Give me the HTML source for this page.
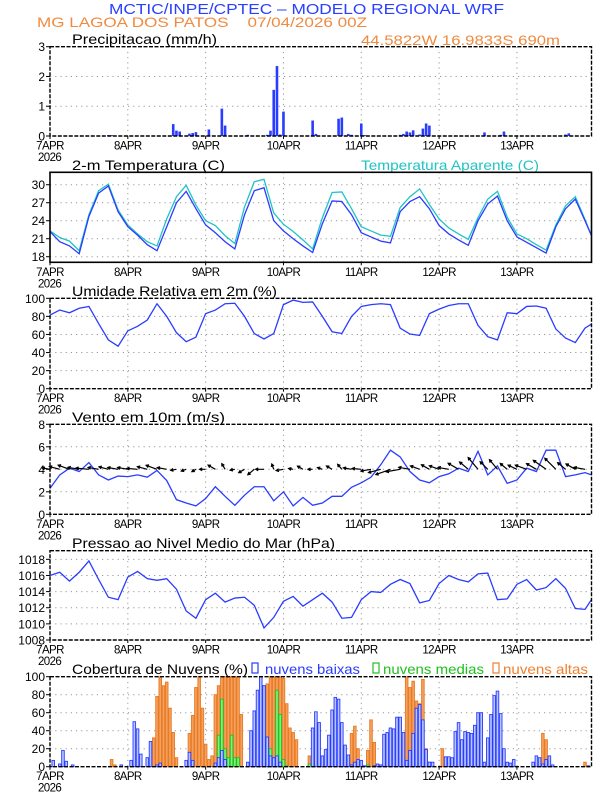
<!DOCTYPE html>
<html><head><meta charset="utf-8"><style>
html,body{margin:0;padding:0;background:#fff}
svg{display:block}
text{font-family:"Liberation Sans",sans-serif}
</style></head><body>
<svg id="chart" width="612" height="792" viewBox="0 0 612 792" xmlns="http://www.w3.org/2000/svg">
<rect width="612" height="792" fill="#fff"/>
<text x="109" y="14" font-size="15" fill="#2a40ff" textLength="395" lengthAdjust="spacingAndGlyphs">MCTIC/INPE/CPTEC – MODELO REGIONAL WRF</text>
<text x="37" y="27" font-size="14" fill="#f08a40" xml:space="preserve" textLength="330" lengthAdjust="spacingAndGlyphs">MG LAGOA DOS PATOS    07/04/2026 00Z</text>
<text x="361" y="45" font-size="14" fill="#f08a40" textLength="199" lengthAdjust="spacingAndGlyphs">44.5822W 16.9833S 690m</text>
<g id="g"></g>
</svg>
<script>
// ---- data (hours since 07APR 00Z) ----
const dayLabels = ["7APR","8APR","9APR","10APR","11APR","12APR","13APR"];
const hours3 = [0,3,6,9,12,15,18,21,24,27,30,33,36,39,42,45,48,51,54,57,60,63,66,69,72,75,78,81,84,87,90,93,96,99,102,105,108,111,114,117,120,123,126,129,132,135,138,141,144,147,150,153,156,159,162,165,167];
const precipHours = [18,19,38,39,40,43,44,45,49,53,54,61,67,68,69,70,71,72,81,82,89,90,92,93,96,97,108,109,110,111,112,114,115,116,117,134,139,140,159,160];
const precipVals = [0.03,0.03,0.4,0.18,0.15,0.08,0.1,0.13,0.22,0.92,0.35,0.04,0.04,0.18,1.55,2.35,0.05,0.82,0.52,0.07,0.58,0.62,0.07,0.04,0.42,0.03,0.04,0.07,0.15,0.12,0.19,0.05,0.25,0.42,0.35,0.12,0.04,0.15,0.05,0.09];
const tempVals = [22.2,20.5,19.8,18.5,24.7,28.6,29.8,25.5,23.0,21.6,20.0,19.0,23.0,27.0,28.9,26.0,23.3,22.0,20.5,19.3,25.0,29.0,29.5,24.0,22.3,21.0,19.8,18.7,23.5,27.3,27.2,25.0,22.0,21.3,20.6,20.3,25.5,27.2,28.0,26.0,23.2,21.8,20.8,19.9,24.0,26.8,28.1,24.0,21.3,20.4,19.5,18.6,23.0,26.0,27.6,24.0,21.5];
const appTempVals = [22.3,21.2,20.6,19.0,25.0,29.0,30.1,25.8,23.3,21.8,20.5,19.8,24.3,28.0,29.9,26.6,24.0,23.2,21.5,20.2,26.3,30.5,30.9,25.3,23.4,22.2,20.8,19.3,24.5,28.7,28.8,26.0,23.0,22.3,21.6,21.4,26.2,28.0,29.3,26.7,24.3,22.8,21.8,20.9,24.5,27.6,28.9,24.6,21.8,21.0,20.0,19.1,23.3,26.5,28.0,24.2,21.5];
const rhVals = [81.5,87,84,89,91,72,54,47,64,69,76,94,80,62,52,57,83,87,94,94.5,80,61,55,61,93,98,95.5,96,80,63,61,80,91,93,94,93,67,60.5,59,83,88,92,94,94,70,57.5,54,84,83,91,91.5,89,66,56,51,67,71.5];
const windSpd = [2.3,3.5,4.1,3.8,4.6,3.5,3.05,3.4,3.35,3.5,3.3,3.9,3.0,1.3,1.0,0.75,1.4,2.45,1.6,0.8,1.7,2.45,2.45,1.2,2.0,0.75,1.5,0.8,1.0,1.6,1.6,2.4,2.8,3.3,4.4,5.7,5.1,3.8,3.05,2.8,3.35,3.6,4.1,3.8,5.6,3.5,4.3,2.75,3.05,4.1,3.8,5.7,5.7,3.35,3.5,3.7,3.5];
const windDir = [100,105,110,100,95,100,105,100,100,95,105,110,100,80,70,60,90,120,150,80,60,50,90,160,80,100,120,90,110,120,140,100,95,80,75,70,80,100,110,120,110,100,120,130,140,135,140,130,115,110,120,125,135,130,120,100];
const pressVals = [1016.0,1016.4,1015.3,1016.4,1017.8,1015.5,1013.3,1013.0,1015.8,1016.5,1015.6,1015.4,1015.6,1014.3,1011.6,1010.7,1013.0,1013.8,1012.7,1013.2,1013.3,1012.3,1009.5,1010.8,1012.8,1013.4,1012.2,1013.0,1013.8,1012.7,1010.7,1010.8,1013.0,1014.0,1013.9,1014.9,1015.5,1015.0,1012.6,1012.9,1015.0,1016.0,1015.5,1015.2,1016.2,1016.3,1013.0,1013.1,1014.9,1015.5,1014.2,1014.5,1015.6,1014.4,1011.9,1011.8,1013.0];
const lowHours = [1,3,4,5,7,22,25,26,27,28,30,31,33,34,42,43,44,51,52,53,54,61,62,63,64,65,66,67,68,69,70,71,81,82,83,84,85,86,87,88,89,90,91,92,93,94,95,96,97,100,101,102,103,104,105,106,107,108,109,110,111,112,113,114,115,116,117,118,122,123,124,125,126,127,128,129,130,131,132,133,134,135,136,137,138,139,140,141,142,143,149,150,151,152,153,154,155,166];
const lowVals = [7,3,18,6,2,2,7,50,42,14,10,28,2,4,7,16,7,4,10,18,8,5,40,62,85,100,90,33,12,10,12,5,43,61,49,12,19,35,63,77,75,49,24,13,2,5,8,7,1,1,3,2,36,38,43,42,55,55,38,7,18,37,65,69,52,19,5,5,11,11,10,39,49,30,39,38,37,46,60,60,5,32,58,79,84,59,20,5,4,8,5,12,10,3,8,12,2,1];
const midHours = [51,52,53,54,55,56,57,58,67,68,69,70,71,72,73,80,81,84,98,113,115,137,138,139];
const midVals = [2,35,75,20,10,35,10,10,15,20,10,85,58,8,1,3,9,2,2,2,2,10,7,5];
const highHours = [19,20,32,33,34,35,36,37,38,39,43,44,45,46,47,48,49,50,51,52,53,54,55,56,57,58,59,65,66,67,68,69,70,71,72,73,74,75,76,80,81,93,94,95,98,99,100,110,111,112,113,114,115,116,117,121,152,153,154,165];
const highVals = [8,2,32,78,100,90,94,65,38,10,37,57,88,100,65,25,8,12,80,90,100,100,100,100,100,100,58,30,90,92,100,100,100,100,98,70,43,38,30,12,10,37,45,20,18,52,27,100,88,95,73,70,97,20,5,20,37,30,10,5];

// ---- layout ----
const NS="http://www.w3.org/2000/svg";
const G=document.getElementById('g');
const X0=50, X1=591.5, HMAX=167;
function xs(h){return X0+h*(X1-X0)/HMAX;}
const BLUE="#2a3cff";
function el(tag,attrs,parent){const e=document.createElementNS(NS,tag);for(const k in attrs)e.setAttribute(k,attrs[k]);(parent||G).appendChild(e);return e;}
function txt(s,attrs,parent){const e=el('text',attrs,parent);e.textContent=s;return e;}

function panel(name,top,bot,vmin,vmax,ticks,title,titleW,solid){
  const g=el('g',{});
  
  
  const ys=v=>bot-(v-vmin)/(vmax-vmin)*(bot-top);
  for(let d=1;d<7;d++){const l=el('line',{x1:xs(d*24),x2:xs(d*24),y1:top,y2:bot,stroke:'#999','stroke-width':1,'stroke-dasharray':'1.2,4'},g);
    }
  ticks.forEach(t=>{
    if(ys(t)>top+1&&ys(t)<bot-1){const l=el('line',{x1:X0,x2:X1,y1:ys(t),y2:ys(t),stroke:'#999','stroke-width':1,'stroke-dasharray':'1.2,4'},g);
      }
    const tk=el('line',{x1:X0-4,x2:X0,y1:ys(t),y2:ys(t),stroke:'#000','stroke-width':1},g);
    
    const tl=txt(String(t),{x:X0-5,y:ys(t)+4.5,'font-size':12,'text-anchor':'end',fill:'#000'},g);
    
  });
  dayLabels.forEach((s,i)=>{
    const tk=el('line',{x1:xs(i*24),x2:xs(i*24),y1:bot,y2:bot+3,stroke:'#000'},g);
    
    const t=txt(s,{x:xs(i*24),y:bot+13.5,'font-size':11.5,'text-anchor':'middle',fill:'#000','letter-spacing':'-0.6'},g);
    
  });
  const yr=txt('2026',{x:38,y:bot+25,'font-size':11.5,fill:'#000','letter-spacing':'-0.6'},g);
  
  const tt=txt(title,{x:72,y:top-2.5,'font-size':14,fill:'#000',textLength:titleW,lengthAdjust:'spacingAndGlyphs'},g);
  
  return {g,ys,frame:()=>{const f=el('rect',{x:X0,y:top,width:X1-X0,height:bot-top,fill:'none',stroke:'#000','stroke-width':solid?1.6:1.4,'stroke-dasharray':solid?'none':'4,1.5'},g);
    }};
}
function line(p,vals,color,name){
  const d=vals.map((v,i)=>(i?'L':'M')+xs(hours3[i]).toFixed(2)+','+p.ys(v).toFixed(2)).join('');
  const l=el('path',{d,fill:'none',stroke:color,'stroke-width':1.3},p.g);
  
}

const p1=panel('precipitation',46.7,136,0,3,[0,1,2,3],'Precipitacao (mm/h)',145,false);
precipHours.forEach((h,i)=>{
  const y=p1.ys(precipVals[i]);
  const b=el('rect',{x:xs(h)-1.3,y:y,width:2.6,height:136-y,fill:BLUE},p1.g);
  
});
p1.frame();

const p2=panel('temperature',172.3,262.3,17.07,32.07,[18,21,24,27,30],'2-m Temperatura (C)',153,true);
const ap=txt('Temperatura Aparente (C)',{x:361,y:169.8,'font-size':14,fill:'#20c4c4',textLength:178,lengthAdjust:'spacingAndGlyphs'},p2.g);

line(p2,appTempVals,'#20c4c4','apparent-temperature-line');
line(p2,tempVals,BLUE,'temperature-line');
p2.frame();

const p3=panel('humidity',298.3,388.7,0,100,[0,20,40,60,80,100],'Umidade Relativa em 2m (%)',205,false);
line(p3,rhVals,BLUE,'humidity-line');
p3.frame();

const p4=panel('wind',424.3,514.3,0,8,[0,2,4,6,8],'Vento em 10m (m/s)',153,false);
line(p4,windSpd,BLUE,'wind-speed-line');
windDir.forEach((d,i)=>{
  const x=xs(hours3[i]),y=p4.ys(4),L=windSpd[i]*2.2+3,r=d*Math.PI/180;
  const dx=-Math.sin(r)*L,dy=Math.cos(r)*L;
  const ex=x+dx,ey=y+dy,a=Math.atan2(dy,dx);
  const h1x=ex-3*Math.cos(a-0.5),h1y=ey-3*Math.sin(a-0.5),h2x=ex-3*Math.cos(a+0.5),h2y=ey-3*Math.sin(a+0.5);
  const ar=el('path',{d:`M${x},${y}L${ex},${ey}M${h1x},${h1y}L${ex},${ey}L${h2x},${h2y}`,stroke:'#000','stroke-width':1.2,fill:'none'},p4.g);
  
  
});
p4.frame();

const p5=panel('pressure',550.7,640,1008,1019.07,[1008,1010,1012,1014,1016,1018],'Pressao ao Nivel Medio do Mar (hPa)',263,false);
line(p5,pressVals,BLUE,'pressure-line');
p5.frame();

const p6=panel('cloud-cover',676.7,766.7,0,100,[0,20,40,60,80,100],'Cobertura de Nuvens (%)',176,false);
function bars(hs,vs,fill,stroke,name){
  hs.forEach((h,i)=>{const y=p6.ys(vs[i]);
    const b=el('rect',{x:xs(h)-1.3,y:y,width:2.6,height:766.7-y,fill:fill,stroke:stroke,'stroke-width':0.9},p6.g);
    });
}
bars(highHours,highVals,'#f4a060','#e87a20','high-cloud-bar');
bars(midHours,midVals,'#80f080','#20c020','mid-cloud-bar');
bars(lowHours,lowVals,'#b8c4ff','#2a3cff','low-cloud-bar');
const leg=[[252,'#2a3cff','nuvens baixas',265,95],[373,'#20c020','nuvens medias',383,101],[493,'#f08030','nuvens altas',503,85]];
leg.forEach(([bx,c,s,tx,w])=>{
  const r=el('rect',{x:bx,y:663,width:6,height:10,fill:'none',stroke:c,'stroke-width':1.2},p6.g);
  
  const t=txt(s,{x:tx,y:674,'font-size':14,fill:c,textLength:w,lengthAdjust:'spacingAndGlyphs'},p6.g);
  
});
p6.frame();
</script>
</body></html>
